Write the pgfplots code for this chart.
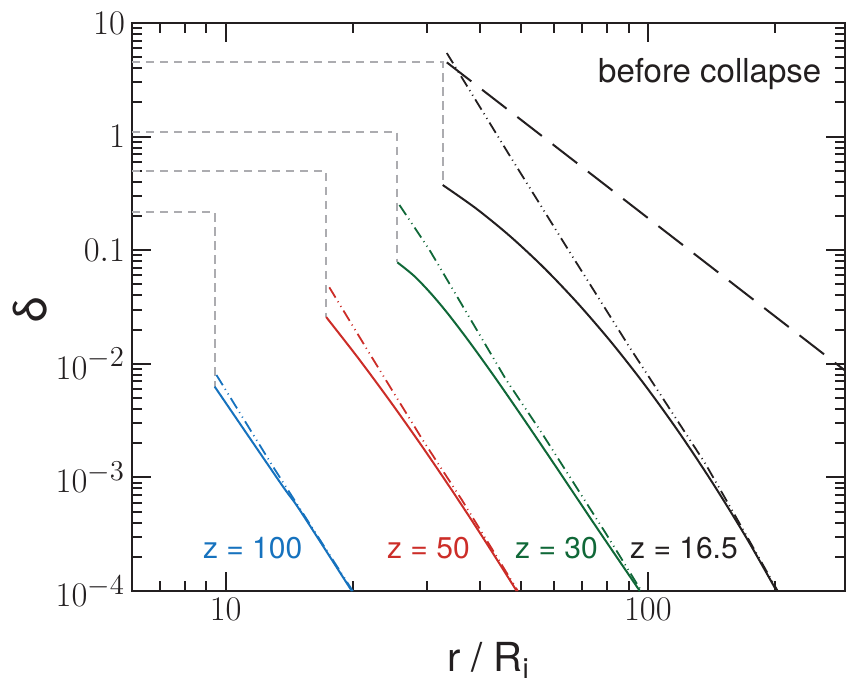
\documentclass[border=0pt]{standalone}
\usepackage{fontspec}
\setmainfont{TeX Gyre Heros}
\usepackage{pgfplots}
\pgfplotsset{compat=1.18}
\definecolor{cblue}{RGB}{22,114,190}
\definecolor{cred}{RGB}{204,45,40}
\definecolor{cgreen}{RGB}{16,104,56}
\definecolor{cgray}{RGB}{172,172,176}
\definecolor{caxis}{RGB}{35,31,32}
\tikzset{ddot/.style={dash pattern=on 6pt off 2.2pt on 0.5pt off 2.2pt on 0.5pt off 2.2pt}}
\begin{document}
\begin{tikzpicture}
\begin{axis}[
  xmode=log, ymode=log,
  scale only axis, width=356.5pt, height=284pt,
  xmin=6, xmax=293, ymin=1e-4, ymax=10,
  xtick={10,100}, xticklabels={$10$,$100$},
  minor xtick={6,7,8,9,20,30,40,50,60,70,80,90,200},
  ytick={1e-4,1e-3,1e-2,0.1,1,10},
  yticklabels={$10^{-4}$,$10^{-3}$,$10^{-2}$,$0.1$,$1$,$10$},
  minor ytick={2e-4,3e-4,4e-4,5e-4,6e-4,7e-4,8e-4,9e-4,
               2e-3,3e-3,4e-3,5e-3,6e-3,7e-3,8e-3,9e-3,
               0.02,0.03,0.04,0.05,0.06,0.07,0.08,0.09,
               0.2,0.3,0.4,0.5,0.6,0.7,0.8,0.9,
               2,3,4,5,6,7,8,9},
  major tick length=9.5pt, minor tick length=5pt,
  tick align=inside, tick pos=both,
  every tick/.style={line width=1pt, caxis},
  axis line style={line width=1.2pt, caxis},
  tick label style={font=\fontsize{19}{22}\selectfont, text=caxis},
  xlabel={r / R\textsubscript{i}},
  ylabel={δ},
  xlabel style={font=\fontsize{20}{24}\selectfont, text=caxis, at={(axis description cs:0.5,-0.1426)}, anchor=base},
  ylabel style={font=\fontsize{23}{26}\selectfont, text=caxis, at={(axis description cs:-0.143,0.495)}, anchor=center},
]
% gray step lines
\addplot[cgray, line width=0.9pt, dash pattern=on 4.2pt off 2.8pt] coordinates {(6,4.51) (32.7,4.51) (32.7,0.375)};
\addplot[cgray, line width=0.9pt, dash pattern=on 4.2pt off 2.8pt] coordinates {(6,1.098) (25.5,1.098) (25.5,0.0782)};
\addplot[cgray, line width=0.9pt, dash pattern=on 4.2pt off 2.8pt] coordinates {(6,0.498) (17.3,0.498) (17.3,0.0258)};
\addplot[cgray, line width=0.9pt, dash pattern=on 4.2pt off 2.8pt] coordinates {(6,0.217) (9.42,0.217) (9.42,0.00629)};
% before collapse
\addplot[caxis, line width=1pt, dash pattern=on 15.5pt off 6.8pt] coordinates {(33.4,4.5) (293,0.00873)};
% z = 16.5
\addplot[caxis, line width=1pt, smooth] coordinates {(32.66,0.375) (39.26,0.2317) (47.2,0.1324) (56.75,0.06993) (68.2,0.03413) (82.0,0.0154) (98.6,0.006427) (118.6,0.002479) (142.6,8.84e-4) (171.4,2.913e-4) (201.8,1e-4)};
\addplot[caxis, line width=0.9pt, ddot] coordinates {(33.4,5.44) (46.7,0.713) (64.1,0.1074) (90.3,0.01416) (136.5,1.34e-3) (161.5,4.5e-4) (203,1e-4)};
% z = 30
\addplot[cgreen, line width=1pt, smooth] coordinates {(25.5,0.0782) (27.98,0.05911) (30.68,0.04132) (33.65,0.02742) (37.75,0.01566) (43.35,0.007662) (50.93,0.003222) (61.22,0.001171) (75.33,3.705e-4) (95.7,1e-4)};
\addplot[cgreen, line width=0.9pt, ddot] coordinates {(25.8,0.25) (30.4,0.1004) (38.5,0.02275) (46.2,0.0072) (55.5,0.00261) (79.5,3.22e-4) (96.5,1e-4)};
% z = 50
\addplot[cred, line width=1pt, smooth] coordinates {(17.3,0.0258) (20.62,0.01118) (24.51,0.004691) (29.13,0.001895) (34.62,7.37e-4) (41.15,2.759e-4) (48.9,1e-4)};
\addplot[cred, line width=0.9pt, ddot] coordinates {(17.6,0.0471) (21.9,0.01237) (29.3,0.00213) (36.2,6.4e-4) (49.2,1e-4)};
% z = 100
\addplot[cblue, line width=1pt, smooth] coordinates {(9.42,0.00629) (13.5,8.87e-4) (14.98,5.16e-4) (19.9,1e-4)};
\addplot[cblue, line width=0.9pt, ddot] coordinates {(9.51,0.00797) (12.95,0.00124) (20.0,1e-4)};
% annotations
\node[anchor=base east, inner sep=0pt, font=\fontsize{16.5}{19}\selectfont, text=caxis] at (axis cs:258,3.02) {before collapse};
\node[anchor=base west, inner sep=0pt, font=\fontsize{15}{18}\selectfont, text=cblue] at (axis cs:8.82,1.95e-4) {z = 100};
\node[anchor=base west, inner sep=0pt, font=\fontsize{15}{18}\selectfont, text=cred] at (axis cs:24.07,1.95e-4) {z = 50};
\node[anchor=base west, inner sep=0pt, font=\fontsize{15}{18}\selectfont, text=cgreen] at (axis cs:48.4,1.95e-4) {z = 30};
\node[anchor=base west, inner sep=0pt, font=\fontsize{15}{18}\selectfont, text=caxis] at (axis cs:90.6,1.95e-4) {z = 16.5};
\end{axis}
\pgfresetboundingbox
\path[use as bounding box] (-66pt,-49pt) rectangle (357pt,295.5pt);
\end{tikzpicture}
\end{document}
